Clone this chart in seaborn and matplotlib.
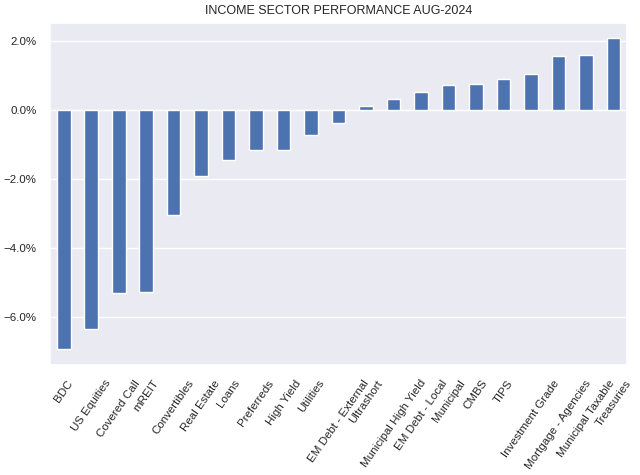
import pandas as pd
import numpy as np
import seaborn as sns
import matplotlib.pyplot as plt
from matplotlib.ticker import PercentFormatter

sectors = [
    "BDC", "US Equities", "Covered Call", "mREIT", "Convertibles", "Real Estate",
    "Loans", "Preferreds", "High Yield", "Utilities", "EM Debt - External",
    "Ultrashort", "Municipal High Yield", "EM Debt - Local", "Municipal", "CMBS",
    "TIPS", "Investment Grade", "Mortgage - Agencies", "Municipal Taxable", "Treasuries",
]
returns_pct = [
    -6.95, -6.37, -5.31, -5.29, -3.05, -1.93,
    -1.46, -1.16, -1.16, -0.72, -0.39,
    0.12, 0.31, 0.52, 0.72, 0.76,
    0.89, 1.04, 1.56, 1.58, 2.07,
]

sns.set_theme(style="darkgrid", font_scale=0.75)
plt.rcParams["font.family"] = ["Liberation Sans", "DejaVu Sans"]

df = pd.DataFrame({"sector": sectors, "ret": returns_pct})

fig, ax = plt.subplots(figsize=(6.4, 4.75), dpi=100)
fig.subplots_adjust(left=0.078, right=0.98, bottom=0.2316, top=0.952)

sns.barplot(data=df, x="sector", y="ret", color="#4c72b0", saturation=1,
            width=0.5, edgecolor="white", linewidth=1, ax=ax)

lo, hi = min(returns_pct), max(returns_pct)
pad = (hi - lo) * 0.05
ax.set_ylim(lo - pad, hi + pad)
ax.set_xlim(-0.5, len(sectors) - 0.5)
ax.yaxis.set_major_formatter(PercentFormatter(decimals=1))
ax.set_yticks([-6, -4, -2, 0, 2])

ax.set_xlabel("")
ax.set_ylabel("")
ax.set_title("INCOME SECTOR PERFORMANCE AUG-2024")
plt.setp(ax.get_xticklabels(), rotation=55, ha="center")

plt.savefig("out.png", dpi=100)
plt.close()
